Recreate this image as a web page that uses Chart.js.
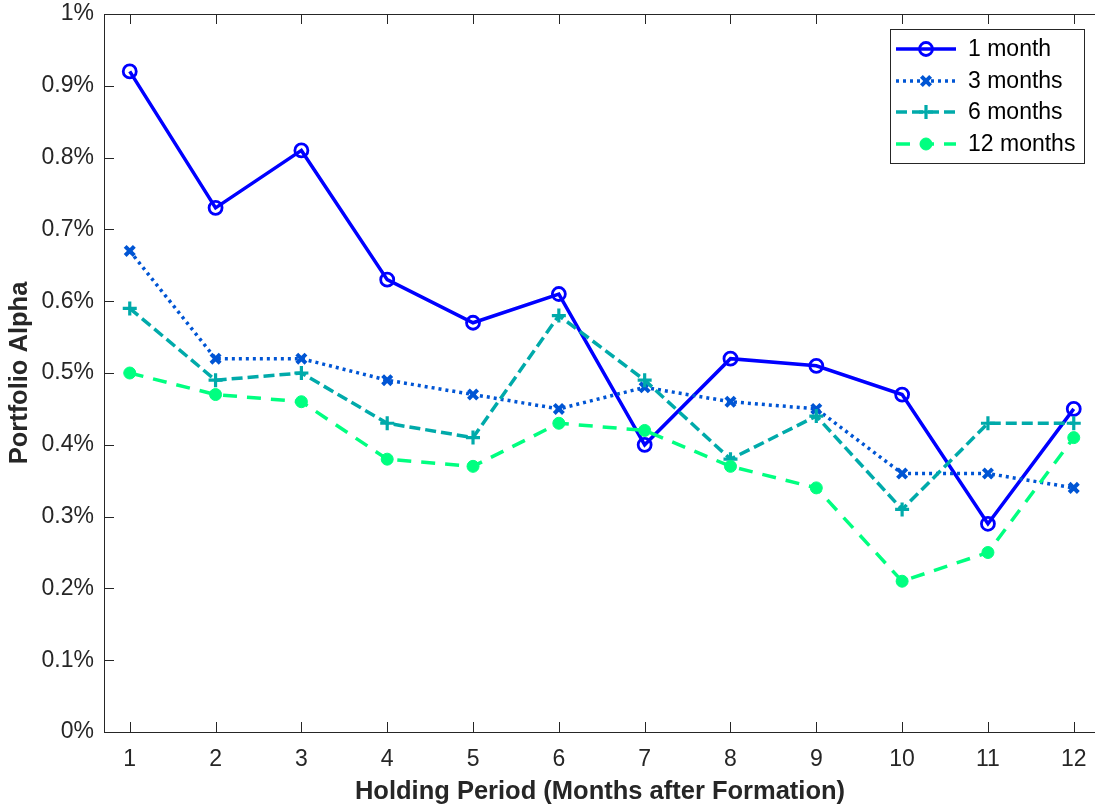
<!DOCTYPE html>
<html><head><meta charset="utf-8">
<script src="https://cdn.jsdelivr.net/npm/chart.js@4"></script>
<style>
html,body{margin:0;padding:0;background:#fff;overflow:hidden;}
#wrap{width:1110px;height:812px;position:relative;}
canvas{display:block;}
</style></head>
<body><div id="wrap"><canvas id="c" width="1110" height="812"></canvas></div>
<script>
const holdingPeriods = [1,2,3,4,5,6,7,8,9,10,11,12];
const yTicks = [0,0.1,0.2,0.3,0.4,0.5,0.6,0.7,0.8,0.9,1];
const seriesNames = ['1 month','3 months','6 months','12 months'];
const alpha1m  = [0.92,0.73,0.81,0.63,0.57,0.61,0.40,0.52,0.51,0.47,0.29,0.45];
const alpha3m  = [0.67,0.52,0.52,0.49,0.47,0.45,0.48,0.46,0.45,0.36,0.36,0.34];
const alpha6m  = [0.59,0.49,0.50,0.43,0.41,0.58,0.49,0.38,0.44,0.31,0.43,0.43];
const alpha12m = [0.50,0.47,0.46,0.38,0.37,0.43,0.42,0.37,0.34,0.21,0.25,0.41];
const xTitle = 'Holding Period (Months after Formation)';
const yTitle = 'Portfolio Alpha';

const FONT = '"Liberation Sans", Arial, Helvetica, sans-serif';
const AX = '#262626';
const toPts = arr => arr.map((v,i)=>({x:holdingPeriods[i], y:v}));

const styles = [
  {color:'#0000FF', dash:[], pointStyle:'circle', r:6.5, bw:2.8, fill:'rgba(0,0,0,0)'},
  {color:'#0055D4', dash:[3,4], pointStyle:'crossRot', r:6.5, bw:4, fill:'#0055D4'},
  {color:'#00AAAA', dash:[11,5], pointStyle:'cross', r:7, bw:3.2, fill:'#00AAAA'},
  {color:'#00FF80', dash:[14,10], pointStyle:'circle', r:6, bw:1, fill:'#00FF80'}
];
const seriesData = [alpha1m, alpha3m, alpha6m, alpha12m];

const datasets = seriesData.map((d,i)=>({
  label: seriesNames[i],
  data: toPts(d),
  borderColor: styles[i].color,
  borderWidth: 3.5,
  borderDash: styles[i].dash,
  pointStyle: styles[i].pointStyle,
  pointRadius: styles[i].r,
  pointHoverRadius: styles[i].r,
  pointBorderWidth: styles[i].bw,
  pointBorderColor: styles[i].color,
  pointBackgroundColor: styles[i].fill,
  tension: 0,
  fill: false,
  order: 3 - i
}));

function fmtPct(v){ return Number(v.toFixed(1)) + '%'; }

const framePlugin = {
  id:'frame',
  beforeDatasetsDraw(chart){
    const {ctx, chartArea:a, scales:{x,y}} = chart;
    ctx.save();
    ctx.strokeStyle = AX; ctx.lineWidth = 1;
    ctx.beginPath();
    ctx.moveTo(a.left+0.5, a.top+0.5); ctx.lineTo(a.right, a.top+0.5);
    ctx.moveTo(a.left+0.5, a.top); ctx.lineTo(a.left+0.5, a.bottom+0.5); ctx.lineTo(a.right, a.bottom+0.5);
    ctx.stroke();
    ctx.beginPath();
    const tl = 10;
    holdingPeriods.forEach(v=>{
      const px = Math.round(x.getPixelForValue(v))+0.5;
      ctx.moveTo(px, a.bottom); ctx.lineTo(px, a.bottom - tl);
      ctx.moveTo(px, a.top); ctx.lineTo(px, a.top + tl);
    });
    yTicks.forEach(v=>{
      const py = Math.round(y.getPixelForValue(v))+0.5;
      ctx.moveTo(a.left, py); ctx.lineTo(a.left + tl, py);
    });
    ctx.stroke();
    ctx.restore();
  },
  afterDraw(chart){
    const {ctx, chartArea:a} = chart;
    ctx.save();
    ctx.fillStyle = AX;
    ctx.font = 'bold 25.5px ' + FONT;
    ctx.textAlign = 'center'; ctx.textBaseline = 'alphabetic';
    ctx.fillText(xTitle, 600, 799);
    ctx.translate(27, 373); ctx.rotate(-Math.PI/2);
    ctx.fillText(yTitle, 0, 0);
    ctx.setTransform(1,0,0,1,0,0);
    // legend
    const bx = 890.5, by = 29.5, bw = 194, bh = 134;
    ctx.fillStyle = '#fff';
    ctx.fillRect(bx, by, bw, bh);
    ctx.strokeStyle = AX; ctx.lineWidth = 1;
    ctx.strokeRect(bx, by, bw, bh);
    const rows = [49, 81, 112, 144];
    chart.data.datasets.forEach((ds,i)=>{
      const yy = rows[i];
      ctx.save();
      ctx.strokeStyle = ds.borderColor; ctx.lineWidth = ds.borderWidth;
      ctx.setLineDash(ds.borderDash);
      ctx.beginPath(); ctx.moveTo(896, yy); ctx.lineTo(956, yy); ctx.stroke();
      ctx.restore();
      ctx.save();
      ctx.strokeStyle = ds.pointBorderColor; ctx.fillStyle = ds.pointBackgroundColor;
      ctx.lineWidth = ds.pointBorderWidth;
      Chart.helpers.drawPoint(ctx, {pointStyle: ds.pointStyle, radius: ds.pointRadius, borderWidth: ds.pointBorderWidth, rotation:0}, 926, yy);
      ctx.restore();
      ctx.fillStyle = '#000';
      ctx.font = '23px ' + FONT;
      ctx.textAlign = 'left'; ctx.textBaseline = 'middle';
      ctx.fillText(ds.label, 968, yy + 1);
    });
    ctx.restore();
  }
};

new Chart(document.getElementById('c'), {
  type:'line',
  data:{datasets},
  options:{
    responsive:false, maintainAspectRatio:false, animation:false,
    devicePixelRatio:1,
    layout:{padding:{left:0, top:14, right:8, bottom:0}},
    plugins:{legend:{display:false}, tooltip:{enabled:false}},
    scales:{
      x:{
        type:'linear', min:0.7, max:12.3,
        afterBuildTicks(s){ s.ticks = holdingPeriods.map(v=>({value:v})); },
        afterFit(s){ s.height = 80; s.paddingLeft = 0; s.paddingRight = 0; },
        grid:{display:false, drawTicks:false, drawOnChartArea:false},
        border:{display:false},
        ticks:{font:{family:FONT, size:23}, color:AX, padding:14, maxRotation:0, autoSkip:false,
          callback:v=>String(v)}
      },
      y:{
        type:'linear', min:0, max:1,
        afterBuildTicks(s){ s.ticks = yTicks.map(v=>({value:v})); },
        afterFit(s){ s.width = 104; s.paddingTop = 0; s.paddingBottom = 0; },
        grid:{display:false, drawTicks:false, drawOnChartArea:false},
        border:{display:false},
        ticks:{font:{family:FONT, size:23}, color:AX, padding:10, autoSkip:false,
          callback:v=>fmtPct(v)}
      }
    }
  },
  plugins:[framePlugin]
});
</script></body></html>
